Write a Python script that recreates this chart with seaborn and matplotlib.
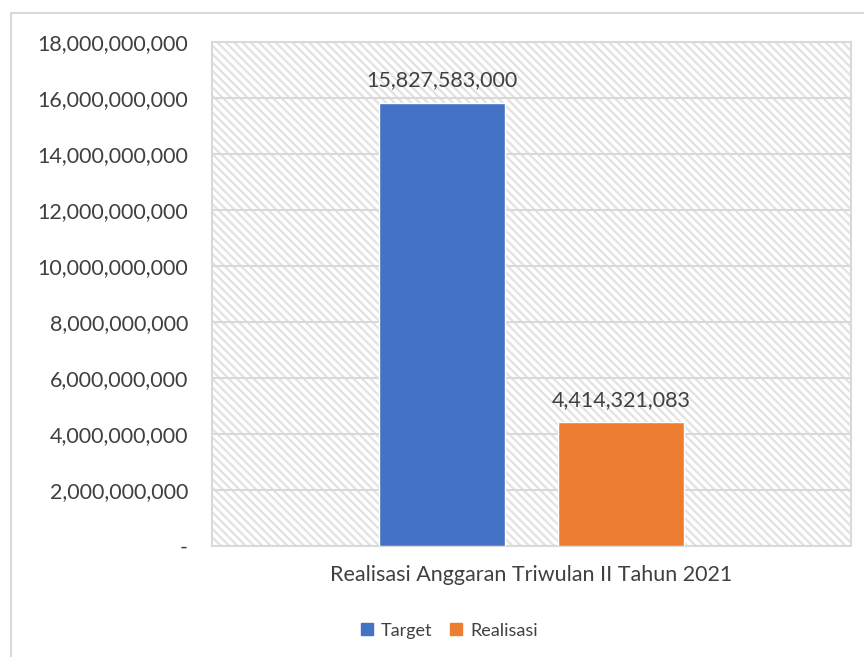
import matplotlib
matplotlib.use('Agg')

import matplotlib.pyplot as plt
import seaborn as sns
import pandas as pd
from matplotlib.patches import Rectangle
from matplotlib.ticker import FuncFormatter

# data
category = ["Realisasi Anggaran Triwulan II Tahun 2021"]
series = ["Target", "Realisasi"]
values = [15827583000, 4414321083]
colors = ["#4472C4", "#ED7D31"]

df = pd.DataFrame({
    "kategori": category * len(series),
    "seri": series,
    "nilai": values,
})

sns.set_theme(style="white")
plt.rcParams['font.family'] = ['Lato', 'DejaVu Sans']
plt.rcParams['hatch.color'] = '#e2e2e2'
plt.rcParams['hatch.linewidth'] = 1.6

fig = plt.figure(figsize=(8.64, 6.57), dpi=100)
ax = fig.add_axes([0.245, 0.169, 0.740, 0.767])

# outer chart frame
fig.patches.append(Rectangle((11 / 864, -0.1), 1.2, 1 - 13 / 657 + 0.1,
                             transform=fig.transFigure, fill=False,
                             edgecolor='#d9d9d9', linewidth=1.5, zorder=0))

# hatched plot area
ax.add_patch(Rectangle((0, 0), 1, 1, transform=ax.transAxes, facecolor='white',
                       edgecolor='#e2e2e2', hatch='\\\\\\\\', linewidth=0, zorder=0))

sns.barplot(data=df, x="kategori", y="nilai", hue="seri", palette=colors,
            width=0.56, gap=0.3, saturation=1, ax=ax, zorder=3, legend=True)

ax.set_ylim(0, 18000000000)
ax.set_yticks(range(0, 18000000001, 2000000000))
ax.yaxis.set_major_formatter(FuncFormatter(lambda v, p: "-" if v == 0 else f"{int(v):,}"))
ax.yaxis.grid(True, color='#d9d9d9', linewidth=1.5, zorder=1)
ax.set_axisbelow(True)
ax.set_xlim(-0.5, 0.5)
ax.set_xlabel("")
ax.set_ylabel("")
ax.tick_params(axis='y', labelsize=15.5, colors='#404040', length=0, pad=17)
ax.tick_params(axis='x', labelsize=15.5, colors='#404040', length=0, pad=14)

for s in ax.spines.values():
    s.set_color('#d9d9d9')
    s.set_linewidth(1.5)

for cont in ax.containers:
    ax.bar_label(cont, labels=[f"{int(v):,}" for v in cont.datavalues],
                 padding=9, fontsize=15.5, color='#404040')

ax.legend_.remove()
handles = [Rectangle((0, 0), 1, 1, color=c) for c in colors]
fig.legend(handles, series, loc='center', bbox_to_anchor=(0.52, 0.04), ncol=2,
           frameon=False, fontsize=13, handlelength=0.65, handleheight=0.65,
           handletextpad=0.45, columnspacing=1.0, labelcolor='#404040')

fig.savefig("out.png", dpi=100)
